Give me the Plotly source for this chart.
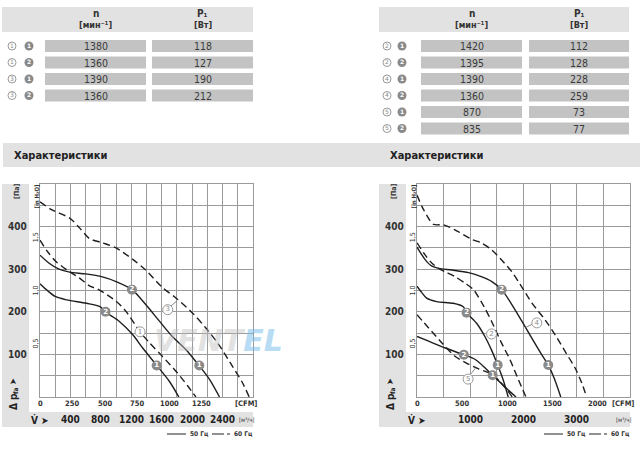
import plotly.graph_objects as go

W, H = 640, 449
def px(x): return x / W
def py(y): return 1 - y / H

FONT = "DejaVu Sans Condensed, Liberation Sans Narrow, Roboto, sans-serif"

# ---------------- table data ----------------
left_curve_ids = [1, 1, 3, 3]
left_point_ids = [1, 2, 1, 2]
left_n = [1380, 1360, 1390, 1360]
left_p1 = [118, 127, 190, 212]

right_curve_ids = [2, 2, 4, 4, 5, 5]
right_point_ids = [1, 2, 1, 2, 1, 2]
right_n = [1420, 1395, 1390, 1360, 870, 835]
right_p1 = [112, 128, 228, 259, 73, 77]

# ---------------- curve data (Q in m3/h, dp in Pa) ----------------
# left chart
L3_60_q = [0, 150, 390, 520, 650, 820, 1000, 1220, 1390, 1610, 1790, 2000, 2180, 2350, 2530, 2660, 2750]
L3_60_p = [458, 440, 420, 397, 372, 362, 350, 323, 298, 257, 232, 198, 162, 123, 72, 34, 0]
L1_60_q = [0, 100, 210, 390, 520, 650, 770, 1000, 1130, 1315, 1440, 1610, 1790, 1950, 2050]
L1_60_p = [368, 341, 318, 294, 279, 261, 252, 225, 201, 153, 127, 95, 60, 24, 0]
L3_50_q = [0, 120, 250, 390, 600, 820, 1000, 1210, 1390, 1570, 1740, 1920, 2090, 2230, 2360]
L3_50_p = [333, 314, 300, 293, 289, 282, 271, 252, 217, 178, 142, 111, 74, 41, 0]
L1_50_q = [0, 90, 200, 350, 610, 790, 865, 1040, 1220, 1350, 1535, 1700, 1825]
L1_50_p = [266, 251, 236, 228, 220, 212, 199, 178, 146, 115, 74, 37, 0]

# right chart
R4_60_q = [0, 94, 219, 313, 500, 719, 1031, 1219, 1406, 1563, 1781, 1969, 2156, 2406, 2594, 2781, 2969, 3094, 3185]
R4_60_p = [474, 447, 419, 405, 404, 392, 370, 361, 345, 325, 294, 258, 221, 181, 146, 107, 68, 33, 0]
R2_60_q = [0, 156, 281, 406, 560, 719, 906, 1060, 1260, 1406, 1575, 1745, 1900, 2045]
R2_60_p = [362, 333, 314, 302, 292, 282, 267, 252, 212, 176, 130, 88, 42, 0]
R4_50_q = [0, 156, 281, 406, 656, 969, 1219, 1406, 1590, 1781, 1969, 2156, 2344, 2465, 2580, 2700]
R4_50_p = [352, 322, 307, 302, 298, 292, 282, 271, 252, 217, 178, 138, 99, 75, 43, 0]
R2_50_q = [0, 90, 181, 369, 681, 869, 931, 1119, 1275, 1400, 1515, 1619, 1713]
R2_50_p = [260, 245, 232, 224, 220, 212, 198, 173, 142, 110, 75, 40, 0]
R5_60_q = [0, 219, 469, 719, 969, 1156, 1406, 1580, 1700, 1790]
R5_60_p = [193, 162, 127, 95, 77, 66, 54, 33, 15, 0]
R5_50_q = [0, 219, 531, 880, 1094, 1281, 1420, 1600, 1750, 1860]
R5_50_p = [142, 131, 115, 99, 88, 68, 51, 30, 12, 0]

# operating point markers (filled) and curve labels (outline)
L_op_q = [1209, 862, 1534, 2094]
L_op_p = [252, 200, 74, 74]
L_op_t = ["2", "2", "1", "1"]
L_lab_q = [1315, 1679]
L_lab_p = [153, 205]
L_lab_t = ["1", "3"]
L_lead_q = [1718, 1800]
L_lead_p = [213, 226]

R_op_q = [1590, 2465, 931, 1515, 880, 1420]
R_op_p = [252, 75, 198, 75, 99, 51]
R_op_t = ["2", "1", "2", "1", "2", "1"]
R_lab_q = [1400, 2250, 960]
R_lab_p = [148, 174, 42]
R_lab_t = ["2", "4", "5"]
R4_lead_q = [2165, 2040]
R4_lead_p = [171, 163]
R5_lead_q = [1005, 1100]
R5_lead_p = [53, 68]

# axis ticks
L_cfm_ticks = [0, 250, 500, 750, 1000, 1250]
L_m3h_ticks = [400, 800, 1200, 1600, 2000, 2400]
R_cfm_ticks = [0, 500, 1000, 1500, 2000]
R_m3h_ticks = [1000, 2000, 3000]
pa_ticks = [100, 200, 300, 400]
inh2o_ticks = [0.5, 1.0, 1.5]
CFM_PER_M3H = 0.5886
PA_PER_INH2O = 249.09

LINE_COL = "#1e1e1e"
GRID_COL = "#9a9a9a"
OP_COL = "#8a8a8a"
LIGHT = "#e2e2e2"
CELL = "#c3c3c3"

fig = go.Figure()

def curve(q, p, dashed, xa, ya):
    fig.add_trace(go.Scatter(
        x=q, y=p, mode="lines", xaxis=xa, yaxis=ya,
        line=dict(color=LINE_COL, width=1.4, shape="spline", smoothing=0.8,
                  dash="7px,4px" if dashed else "solid"),
        hoverinfo="skip", showlegend=False))

curve(L3_60_q, L3_60_p, True, "x", "y")
curve(L1_60_q, L1_60_p, True, "x", "y")
curve(L3_50_q, L3_50_p, False, "x", "y")
curve(L1_50_q, L1_50_p, False, "x", "y")
curve(R4_60_q, R4_60_p, True, "x2", "y2")
curve(R2_60_q, R2_60_p, True, "x2", "y2")
curve(R5_60_q, R5_60_p, True, "x2", "y2")
curve(R4_50_q, R4_50_p, False, "x2", "y2")
curve(R2_50_q, R2_50_p, False, "x2", "y2")
curve(R5_50_q, R5_50_p, False, "x2", "y2")

def leader(q, p, xa, ya):
    fig.add_trace(go.Scatter(x=q, y=p, mode="lines", xaxis=xa, yaxis=ya,
                             line=dict(color="#8a8a8a", width=1),
                             hoverinfo="skip", showlegend=False))

leader(L_lead_q, L_lead_p, "x", "y")
leader(R4_lead_q, R4_lead_p, "x2", "y2")
leader(R5_lead_q, R5_lead_p, "x2", "y2")

def badge(q, p, t, xa, ya, filled, size=10, tsize=7):
    fig.add_trace(go.Scatter(
        x=q, y=p, text=t, mode="markers+text", xaxis=xa, yaxis=ya,
        marker=dict(size=size, color=OP_COL if filled else "white",
                    line=dict(width=0 if filled else 1, color="#9a9a9a")),
        textposition="middle center",
        textfont=dict(family="DejaVu Sans", size=tsize,
                      color="white" if filled else "#8a8a8a"),
        texttemplate="<b>%{text}</b>" if filled else "%{text}",
        hoverinfo="skip", showlegend=False))

badge(L_op_q, L_op_p, L_op_t, "x", "y", True)
badge(L_lab_q, L_lab_p, L_lab_t, "x", "y", False)
badge(R_op_q, R_op_p, R_op_t, "x2", "y2", True)
badge(R_lab_q, R_lab_p, R_lab_t, "x2", "y2", False)

# plot geometry (pixels)
LX0, LX1 = 40, 253
RX0, RX1 = 417, 630
PY0, PY1 = 184, 397

# table badges drawn on a full-page overlay axis (pixel units)
row_tops = [40, 56.5, 73, 89.5, 106, 122.5]
def table_badges(cx_out, cx_fill, curve_ids, point_ids):
    ys = [row_tops[i] + 6 for i in range(len(curve_ids))]
    badge([cx_out] * len(ys), ys, [str(c) for c in curve_ids], "x3", "y3", False, 8, 6)
    badge([cx_fill] * len(ys), ys, [str(c) for c in point_ids], "x3", "y3", True, 9, 6)

table_badges(12, 29, left_curve_ids, left_point_ids)
table_badges(387, 402, right_curve_ids, right_point_ids)

axcommon = dict(showgrid=True, gridcolor=GRID_COL, gridwidth=1, zeroline=False,
                showticklabels=False, ticks="", showline=True, mirror=True,
                linecolor=GRID_COL, linewidth=1, fixedrange=True)
fig.update_layout(
    xaxis=dict(domain=[px(LX0), px(LX1)], range=[0, 2800], dtick=200, tick0=0, anchor="y", **axcommon),
    yaxis=dict(domain=[py(PY1), py(PY0)], range=[0, 500], dtick=50, tick0=0, anchor="x", **axcommon),
    xaxis2=dict(domain=[px(RX0), px(RX1)], range=[0, 4000], dtick=500, tick0=0, anchor="y2", **axcommon),
    yaxis2=dict(domain=[py(PY1), py(PY0)], range=[0, 500], dtick=50, tick0=0, anchor="x2", **axcommon),
    xaxis3=dict(domain=[0, 1], range=[0, W], visible=False, fixedrange=True, anchor="y3"),
    yaxis3=dict(domain=[0, 1], range=[H, 0], visible=False, fixedrange=True, anchor="x3"),
    width=W, height=H, autosize=False,
    margin=dict(l=0, r=0, t=0, b=0, pad=0),
    paper_bgcolor="white", plot_bgcolor="rgba(0,0,0,0)",
    showlegend=False,
)

shapes = []
ann = []

def rect(x0, y0, x1, y1, color):
    shapes.append(dict(type="rect", xref="paper", yref="paper",
                       x0=px(x0), x1=px(x1), y0=py(y1), y1=py(y0),
                       fillcolor=color, line=dict(width=0), layer="below"))

def text(x, y, s, size=10, color="#333333", bold=False, xanchor="center", angle=0, family=FONT):
    ann.append(dict(xref="paper", yref="paper", x=px(x), y=py(y),
                    text=("<b>%s</b>" % s) if bold else s, showarrow=False,
                    xanchor=xanchor, yanchor="middle", textangle=angle,
                    font=dict(family=family, size=size, color=color)))

# ---------- tables ----------
def table(hx0, hx1, c1, c2, nvals, pvals):
    rect(hx0, 7, hx1, 32, LIGHT)
    n_c = (c1[0] + c1[1]) / 2
    p_c = (c2[0] + c2[1]) / 2
    text(n_c, 13, "n", 10, "#333", True)
    text(n_c, 25, "[мин\u207b\u00b9]", 9, "#333", True)
    text(p_c, 13, "P\u2081", 10, "#333", True)
    text(p_c, 25, "[Вт]", 9, "#333", True)
    for i in range(len(nvals)):
        t = row_tops[i]
        yc = t + 6.3
        rect(c1[0], t, c1[1], t + 12, CELL)
        rect(c2[0], t, c2[1], t + 12, CELL)
        text(n_c, yc, str(nvals[i]), 10.5, "#3a3a3a")
        text(p_c, yc, str(pvals[i]), 10.5, "#3a3a3a")

table(2, 253, (45, 146), (152, 253), left_n, left_p1)
table(379, 629, (421, 522), (529, 629), right_n, right_p1)

# ---------- title band ----------
rect(3, 143, 640, 167, LIGHT)
text(12, 155, "Характеристики", 11, "#222", True, xanchor="left")
text(388, 155, "Характеристики", 11, "#222", True, xanchor="left")

# ---------- axis frames / labels ----------
def axis_decor(x0, x1, xa, cfm_ticks, m3h_ticks):
    ya = xa.replace("x", "y")
    rect(x0 - 38, PY0, x0 - 11, 427, LIGHT)
    rect(x0 - 38, 412, x1, 427, LIGHT)
    text(x0 - 23, 192, "[Па]", 7, "#333", True, angle=-90)
    text(x0 - 4.5, 197, "[in H\u2082O]", 6, "#333", True, angle=-90)
    for v in pa_ticks:
        ann.append(dict(xref="paper", yref=ya, x=px(x0 - 23), y=v,
                        text="<b>%d</b>" % v, showarrow=False, xanchor="center", yanchor="middle",
                        font=dict(family=FONT, size=10, color="#333")))
    for v in inh2o_ticks:
        ann.append(dict(xref="paper", yref=ya, x=px(x0 - 4.5), y=v * PA_PER_INH2O,
                        text=("%.1f" % v).replace(".", ","), showarrow=False, xanchor="center",
                        yanchor="middle", textangle=-90,
                        font=dict(family=FONT, size=7, color="#333")))
    for c in cfm_ticks:
        ann.append(dict(xref=xa, yref="paper", x=c / CFM_PER_M3H, y=py(403),
                        text="<b>%d</b>" % c, showarrow=False, xanchor="center", yanchor="middle",
                        font=dict(family=FONT, size=7.5, color="#333")))
    text(x1 - 7, 403, "[CFM]", 7.5, "#333", True)
    for m in m3h_ticks:
        ann.append(dict(xref=xa, yref="paper", x=m, y=py(419.5),
                        text="<b>%d</b>" % m, showarrow=False, xanchor="center", yanchor="middle",
                        font=dict(family=FONT, size=10, color="#222")))
    text(x1 - 7, 419.5, "[м\u00b3/ч]", 6, "#333")
    text(x0 - 11, 419.5, "V\u0307 \u27a4", 10, "#222", True, xanchor="left")
    # rotated pressure label: "Δ p" + subscript "fa" + arrow
    text(x0 - 27, 402, "Δ p", 10, "#222", True, angle=-90)
    text(x0 - 24, 391, "fa", 6.5, "#222", True, angle=-90)
    text(x0 - 27, 382, "\u27a4", 9, "#222", angle=-90)
    # legend
    lx = x1 - 86
    shapes.append(dict(type="line", xref="paper", yref="paper", x0=px(lx), x1=px(lx + 19),
                       y0=py(434), y1=py(434), line=dict(color="#222", width=1)))
    text(lx + 21, 434, "50 Гц", 6.5, "#333", True, xanchor="left")
    shapes.append(dict(type="line", xref="paper", yref="paper", x0=px(lx + 45), x1=px(lx + 57),
                       y0=py(434), y1=py(434), line=dict(color="#222", width=1)))
    shapes.append(dict(type="line", xref="paper", yref="paper", x0=px(lx + 60), x1=px(lx + 63),
                       y0=py(434), y1=py(434), line=dict(color="#222", width=1)))
    text(lx + 65, 434, "60 Гц", 6.5, "#333", True, xanchor="left")

axis_decor(LX0, LX1, "x", L_cfm_ticks, L_m3h_ticks)
axis_decor(RX0, RX1, "x2", R_cfm_ticks, R_m3h_ticks)

# watermark
ann.append(dict(xref="paper", yref="paper", x=px(152), y=py(340), xanchor="left", yanchor="middle",
                text="<i><b><span style='color:rgba(190,190,190,0.45)'>VENT</span>"
                     "<span style='color:rgba(120,190,235,0.55)'>EL</span></b></i>",
                showarrow=False, font=dict(family="DejaVu Sans, Liberation Sans", size=30)))

fig.update_layout(shapes=shapes, annotations=ann)
fig.write_html("out.html")
